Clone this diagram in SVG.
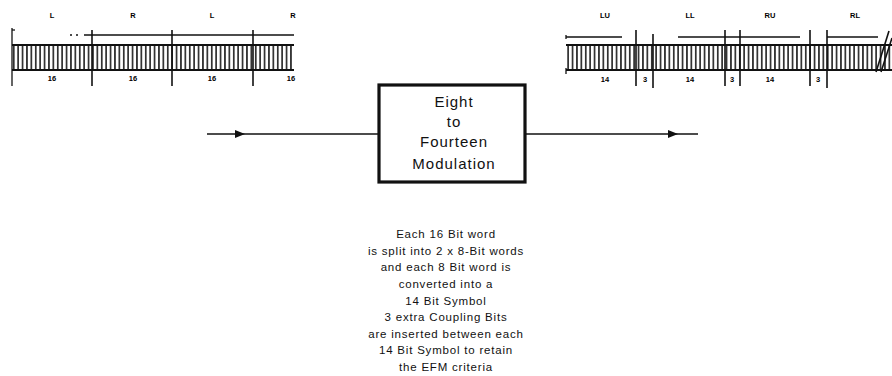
<svg xmlns="http://www.w3.org/2000/svg" width="892" height="376" viewBox="0 0 892 376">
<style>
.ln{stroke:#111;stroke-width:1.3;fill:none}
.div{stroke:#111;stroke-width:1.6}
.lab{font-family:"Liberation Sans",Arial,sans-serif;font-size:7.5px;font-weight:bold;fill:#000;text-anchor:middle}
.box{font-family:"Liberation Sans",Arial,sans-serif;font-size:15px;fill:#111;text-anchor:middle;letter-spacing:1px}
.desc{font-family:"Liberation Sans",Arial,sans-serif;font-size:11.5px;fill:#111;text-anchor:middle;letter-spacing:0.8px}
</style>
<defs>
<pattern id="bits" x="12" y="45" width="4.4" height="25" patternUnits="userSpaceOnUse">
<rect x="1" y="0" width="1.5" height="25" fill="#111"/>
</pattern>
</defs>
<rect width="892" height="376" fill="#fff"/>

<g id="input-stream">
<rect x="12" y="45" width="282" height="25" fill="url(#bits)"/>
<line class="ln" x1="12" y1="45" x2="294" y2="45" style="stroke-width:2"/>
<line class="ln" x1="12" y1="70" x2="294" y2="70" style="stroke-width:2"/>
<line class="ln" x1="12" y1="28" x2="12" y2="86"/>
<line class="ln" x1="12" y1="30" x2="15" y2="30"/>
<line class="ln" x1="70" y1="35" x2="72" y2="35"/>
<line class="ln" x1="76" y1="35" x2="78" y2="35"/>
<line class="ln" x1="84" y1="35" x2="294" y2="35"/>
<line class="div" x1="92" y1="30" x2="92" y2="86"/>
<line class="div" x1="172" y1="30" x2="172" y2="86"/>
<line class="div" x1="253" y1="30" x2="253" y2="86"/>
<text class="lab" x="52" y="18">L</text>
<text class="lab" x="133" y="18">R</text>
<text class="lab" x="212" y="18">L</text>
<text class="lab" x="293" y="18">R</text>
<text class="lab" x="52" y="81">16</text>
<text class="lab" x="133" y="81">16</text>
<text class="lab" x="212" y="81">16</text>
<text class="lab" x="291" y="81">16</text>
</g>

<g id="output-stream">
<rect x="566" y="45" width="326" height="25" fill="url(#bits)"/>
<line class="ln" x1="566" y1="45" x2="892" y2="45" style="stroke-width:2"/>
<line class="ln" x1="566" y1="70" x2="892" y2="70" style="stroke-width:2"/>
<line class="ln" x1="566" y1="37" x2="622" y2="37"/>
<line class="ln" x1="566" y1="35" x2="566" y2="39"/>
<line class="ln" x1="566" y1="68" x2="566" y2="74"/>
<line class="ln" x1="678" y1="37" x2="800" y2="37"/>
<line class="ln" x1="827" y1="37" x2="878" y2="37"/>
<line class="div" x1="636" y1="30" x2="636" y2="86"/>
<line class="div" x1="653" y1="34" x2="653" y2="88"/>
<line class="div" x1="725" y1="30" x2="725" y2="86"/>
<line class="div" x1="740" y1="30" x2="740" y2="86"/>
<line class="div" x1="810" y1="30" x2="810" y2="86"/>
<line class="div" x1="827" y1="30" x2="827" y2="88"/>
<line class="div" x1="876" y1="72" x2="889" y2="31"/>
<line class="div" x1="881" y1="72" x2="892" y2="38"/>
<text class="lab" x="605" y="18">LU</text>
<text class="lab" x="690" y="18">LL</text>
<text class="lab" x="770" y="18">RU</text>
<text class="lab" x="855" y="18">RL</text>
<text class="lab" x="605" y="82">14</text>
<text class="lab" x="645" y="82">3</text>
<text class="lab" x="690" y="82">14</text>
<text class="lab" x="732" y="82">3</text>
<text class="lab" x="770" y="82">14</text>
<text class="lab" x="818" y="82">3</text>
</g>

<g id="efm-block">
<rect x="379" y="85" width="146" height="97" fill="#fff" stroke="#111" stroke-width="3.2"/>
<text class="box" x="454" y="107">Eight</text>
<text class="box" x="454" y="127">to</text>
<text class="box" x="454" y="147">Fourteen</text>
<text class="box" x="454" y="169">Modulation</text>
</g>

<g id="description">
<text class="desc" x="446" y="238">Each 16 Bit word</text>
<text class="desc" x="446" y="254.6">is split into 2 x 8-Bit words</text>
<text class="desc" x="446" y="271.2">and each 8 Bit word is</text>
<text class="desc" x="446" y="287.9">converted into a</text>
<text class="desc" x="446" y="304.5">14 Bit Symbol</text>
<text class="desc" x="446" y="321.1">3 extra Coupling Bits</text>
<text class="desc" x="446" y="337.8">are inserted between each</text>
<text class="desc" x="446" y="354.4">14 Bit Symbol to retain</text>
<text class="desc" x="446" y="370.5">the EFM criteria</text>
</g>

<g id="connectors">
<line class="ln" x1="207" y1="134" x2="379" y2="134"/>
<path d="M235,130 L245,134 L235,138 Z" fill="#111"/>
<line class="ln" x1="525" y1="134" x2="698" y2="134"/>
<path d="M668,130 L678,134 L668,138 Z" fill="#111"/>
</g>
</svg>
